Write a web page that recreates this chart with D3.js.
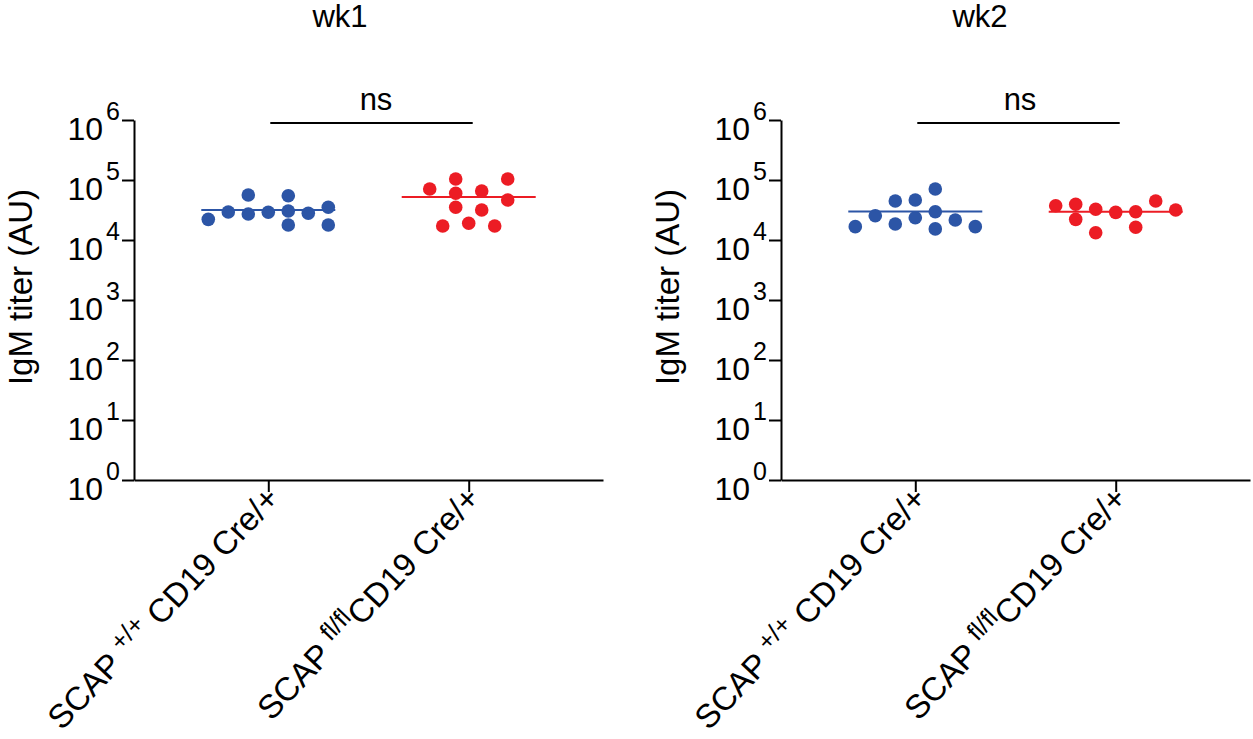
<!DOCTYPE html>
<html><head><meta charset="utf-8">
<script src="https://cdn.jsdelivr.net/npm/d3@7/dist/d3.min.js"></script>
<style>
html,body{margin:0;padding:0;background:#fff;}
text{font-family:"Liberation Sans",Arial,Helvetica,sans-serif;fill:#000;}
</style></head>
<body>
<svg id="chart" width="1253" height="739"></svg>
<script>
// ---------- data ----------
const panelTitles = ["wk1", "wk2"];
const catPrefix = ["SCAP ", "SCAP "];
const catSup = ["+/+", "fl/fl"];
const catSuffix = [" CD19 Cre/+", "CD19 Cre/+"];
const yTickExponents = [0, 1, 2, 3, 4, 5, 6];
const sigLabels = ["ns", "ns"];

// IgM titer (AU), wk1
const wk1Control = [22100, 29300, 56200, 27100, 29000, 54700, 30400, 17800, 27900, 35100, 17800];
const wk1ControlSlot = [-3, -2, -1, -1, 0, 1, 1, 1, 2, 3, 3];
const wk1Flox = [70800, 103900, 60000, 35100, 17100, 19000, 65600, 31600, 17100, 103900, 46400];
const wk1FloxSlot = [-3, -1, -1, -1, -2, 0, 1, 1, 2, 3, 3];
// IgM titer (AU), wk2
const wk2Control = [16700, 25400, 44700, 18500, 46400, 23500, 70800, 29600, 15300, 21500, 16700];
const wk2ControlSlot = [-3, -2, -1, -1, 0, 0, 1, 1, 1, 2, 3];
const wk2Flox = [37300, 39400, 22100, 32500, 13200, 28900, 29600, 16300, 44700, 31600];
const wk2FloxSlot = [-3, -2, -2, -1, -1, 0, 1, 1, 2, 3];

// ---------- drawing ----------
const svg = d3.select("#chart");
const colors = ["#2c55a6", "#ec1c24"];
const fontTick = 32, fontSup = 25, fontLab = 33, fontTitle = 31;

const panels = [
  {left: 134, title: panelTitles[0], titleX: 340, nsX: 376, groups: [
    {vals: wk1Control, slots: wk1ControlSlot, step: 20},
    {vals: wk1Flox, slots: wk1FloxSlot, step: 13}]},
  {left: 781, title: panelTitles[1], titleX: 980, nsX: 1020, groups: [
    {vals: wk2Control, slots: wk2ControlSlot, step: 20},
    {vals: wk2Flox, slots: wk2FloxSlot, step: 20}]}
];

const y = d3.scaleLog().domain([1, 1e6]).range([480, 120]);

panels.forEach((p, pi) => {
  const g = svg.append("g").attr("transform", `translate(${p.left},0)`);
  const x = d3.scaleLinear().domain([-0.67, 1.67]).range([0, 469]);

  // y axis
  const ya = g.append("g").call(d3.axisLeft(y).tickValues(yTickExponents.map(e => Math.pow(10, e)))
      .tickFormat("").tickSize(12).tickSizeOuter(0));
  ya.selectAll("path,line").attr("stroke", "#000").attr("stroke-width", 2);
  yTickExponents.forEach(e => {
    const t = g.append("text").attr("x", -14).attr("y", y(Math.pow(10, e)) + 20)
      .attr("text-anchor", "end").attr("font-size", fontTick);
    t.append("tspan").text("10");
    t.append("tspan").attr("font-size", fontSup).attr("dy", -20).attr("dx", 3).text(String(e));
  });

  // x axis
  const xa = g.append("g").attr("transform", "translate(0,480)")
    .call(d3.axisBottom(x).tickValues([0, 1]).tickFormat("").tickSize(12).tickSizeOuter(0));
  xa.selectAll("path,line").attr("stroke", "#000").attr("stroke-width", 2);

  // category labels
  [0, 1].forEach(ci => {
    const t = g.append("text")
      .attr("transform", `translate(${x(ci) + 13},${500}) rotate(-46.5)`)
      .attr("text-anchor", "end").attr("font-size", fontLab);
    t.append("tspan").text(catPrefix[ci]);
    t.append("tspan").attr("font-size", fontSup).attr("dy", -12).text(catSup[ci]);
    t.append("tspan").attr("dy", 12).text(catSuffix[ci]);
  });

  // y label
  svg.append("text").attr("transform", `translate(${p.left - 102},287) rotate(-90)`)
    .attr("text-anchor", "middle").attr("font-size", fontLab).text("IgM titer (AU)");

  // title
  svg.append("text").attr("x", p.titleX).attr("y", 27).attr("text-anchor", "middle")
    .attr("font-size", fontTitle).text(p.title);

  // significance bracket
  g.append("line").attr("x1", x(0) + 2).attr("x2", x(1) + 4)
    .attr("y1", 123).attr("y2", 123).attr("stroke", "#000").attr("stroke-width", 2);
  svg.append("text").attr("x", p.nsX).attr("y", 110).attr("text-anchor", "middle")
    .attr("font-size", fontTitle).text(sigLabels[pi]);

  // points and mean lines
  p.groups.forEach((grp, gi) => {
    const cx = x(gi);
    const m = d3.mean(grp.vals);
    g.append("line").attr("x1", cx - 67).attr("x2", cx + 67)
      .attr("y1", y(m)).attr("y2", y(m)).attr("stroke", colors[gi]).attr("stroke-width", 2);
    g.selectAll(null).data(grp.vals).enter().append("circle")
      .attr("cx", (d, i) => cx + grp.slots[i] * grp.step)
      .attr("cy", d => y(d)).attr("r", 6.8).attr("fill", colors[gi]);
  });
});
</script>
</body></html>
